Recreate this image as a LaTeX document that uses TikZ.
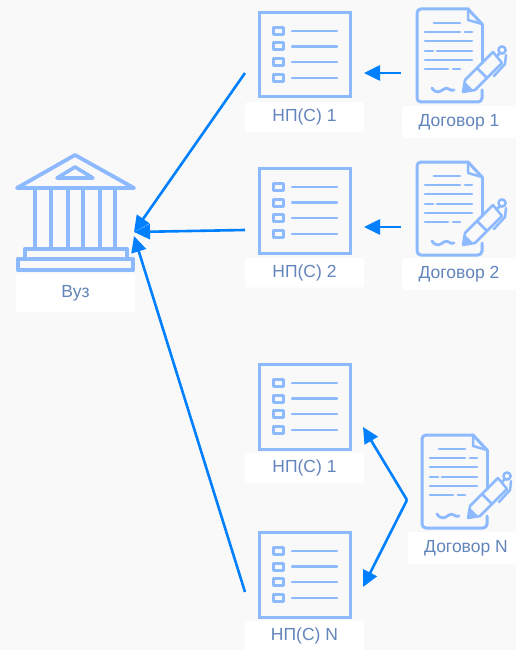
\documentclass[tikz,border=0pt]{standalone}
\usepackage{fontspec}
\setmainfont{Liberation Sans}
\usetikzlibrary{arrows.meta}
\definecolor{iconc}{HTML}{8DB9FF}
\definecolor{arrowc}{HTML}{0080FF}
\definecolor{labelc}{HTML}{6285BC}
\definecolor{bgc}{HTML}{F9F9F9}
\tikzset{
  icon/.style={draw=iconc,line width=3pt,line cap=round,line join=round},
  thin icon/.style={draw=iconc,line width=2.8pt,line cap=round,line join=round},
  pen line/.style={draw=iconc,line width=2.5pt,line cap=round,line join=round},
  lab/.style={fill=white,rounded corners=3pt,inner sep=0pt,text=labelc,font=\fontsize{17.5}{19}\selectfont,anchor=center},
  conn/.style={draw=arrowc,line width=2.6pt,-{Triangle[length=16pt,width=15pt]}},
  pics/checklist/.style={code={
    \draw[icon,line cap=butt,line join=miter] (1,0.5) rectangle (92,85);
    \foreach \y in {19,34.5,50,66}{
      \draw[icon,line cap=butt] (15,\y-3.5) rectangle (25,\y+3.5);
      \draw[thin icon,line width=2.4pt] (34,\y) -- (79,\y);
    }
  }},
  pics/contract/.style={code={
    \draw[icon,rounded corners=4pt] (66,55) -- (66,16);
    \draw[icon] (66,16) -- (52,1);
    \draw[icon,rounded corners=4pt] (52,1) -- (1,1) -- (1,94) -- (66,94) -- (66,82);
    \draw[pen line] (52,1) -- (52,12) -- (66,16);
    \draw[thin icon] (18,15) -- (44,15);
    \draw[thin icon] (9,24) -- (44,24) (49,24) -- (56,24);
    \draw[thin icon] (9,33) -- (56,33);
    \draw[thin icon] (9,43) -- (17,43) (21,43) -- (56,43);
    \draw[thin icon] (9,52) -- (56,52);
    \draw[thin icon] (9,61) -- (32,61) (37,61) -- (44,61);
    \draw[thin icon] (16,80) .. controls (20,86) and (24,84) .. (28,81) .. controls (32,78) and (34,84) .. (38,82);
    \draw[pen line] (47,84) -- (49,72) -- (77,44) -- (86,55) -- (59,82) -- cycle;
    \draw[pen line] (61,60) -- (71,70);
    \fill[iconc] (47,84) -- (49,74) -- (57,82) -- cycle;
    \draw[pen line] (86,42) circle[radius=3.6];
    \draw[pen line] (81,48) -- (84,45);
    \draw[pen line] (78,68) -- (89,56) -- (90,47);
  }},
  pics/bank/.style={code={
    \draw[icon,line width=3.8pt] (17,188) -- (75,155) -- (134,188) -- cycle;
    \draw[icon,line width=3.6pt] (57,178) -- (75,167) -- (93,178) -- cycle;
    \foreach \x in {35,51,68,83,100,115}{
      \draw[icon,line width=4.6pt,line cap=butt] (\x,188) -- (\x,248);
    }
    \draw[icon,line width=4.4pt,line cap=butt] (25,249) rectangle (127,259);
    \draw[icon,line width=4.4pt,line cap=butt] (18,259) rectangle (133,270);
  }}
}
\begin{document}
\begin{tikzpicture}[x=1pt,y=-1pt]
\useasboundingbox (0,0) rectangle (516,650);
\fill[bgc] (0,0) rectangle (516,650);
\pic at (0,0) {bank};
\pic at (258,12) {checklist};
\pic at (258,168) {checklist};
\pic at (258,364) {checklist};
\pic at (258,532) {checklist};
\pic at (416,8) {contract};
\pic at (416,161) {contract};
\pic at (421,434) {contract};
\node[lab,minimum width=119pt,minimum height=38pt] (vuz) at (75.5,293) {Вуз};
\node[lab,minimum width=119pt,minimum height=30pt] (np1) at (304.5,117) {НП(С) 1};
\node[lab,minimum width=119pt,minimum height=30pt] (np2) at (304.5,272.5) {НП(С) 2};
\node[lab,minimum width=119pt,minimum height=30pt] (np3) at (304.5,468) {НП(С) 1};
\node[lab,minimum width=119pt,minimum height=30pt] (np4) at (304.5,636) {НП(С) N};
\node[lab,minimum width=114pt,minimum height=32pt] (dog1) at (459,122) {Договор 1};
\node[lab,minimum width=114pt,minimum height=32pt] (dog2) at (459,274) {Договор 2};
\node[lab,minimum width=109pt,minimum height=32pt] (dogn) at (462,548) {\hspace{8pt}Договор N};
\coordinate (bankA) at (134,232);
\coordinate (bankB) at (134,232);
\coordinate (bankC) at (134,236);
\coordinate (np1L) at (245,73);
\coordinate (np2L) at (245,230);
\coordinate (np4L) at (245,592);
\coordinate (np1R) at (364,73);
\coordinate (np2R) at (364,227);
\coordinate (d1L) at (401,73);
\coordinate (d2L) at (401,227);
\coordinate (np3R) at (363,427);
\coordinate (np4R) at (363,587);
\coordinate (dnL) at (407,500);
\draw[conn] (np1L) -- (bankA);
\draw[conn] (np2L) -- (bankB);
\draw[conn] (np4L) -- (bankC);
\draw[conn] (d1L) -- (np1R);
\draw[conn] (d2L) -- (np2R);
\draw[conn] (dnL) -- (np3R);
\draw[conn] (dnL) -- (np4R);
\end{tikzpicture}
\end{document}
